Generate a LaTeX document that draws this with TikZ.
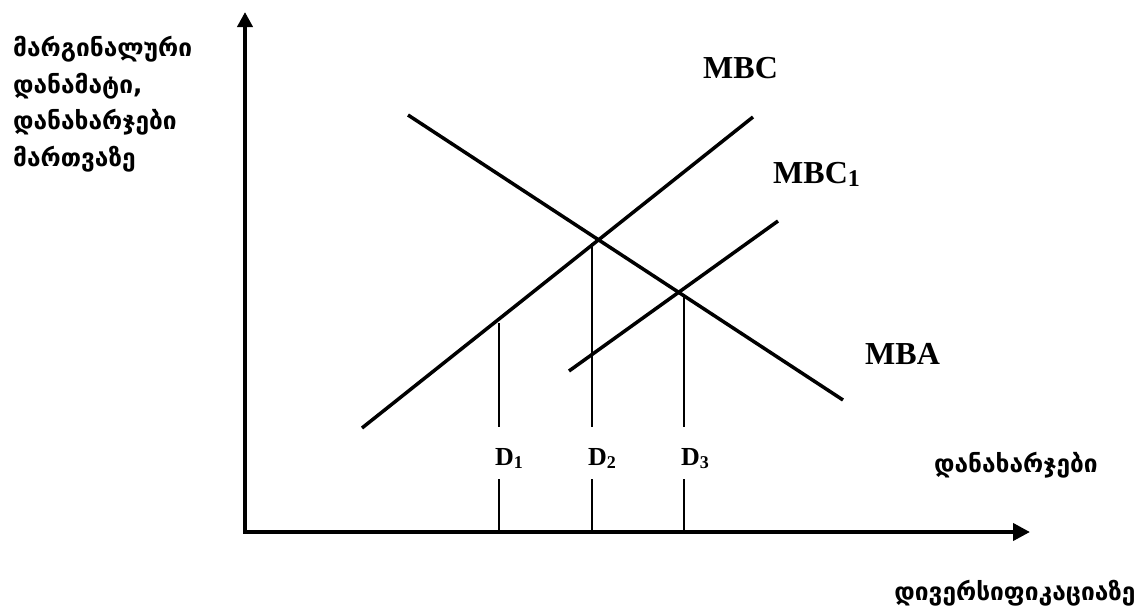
\documentclass[tikz,border=0pt]{standalone}
\usepackage{fontspec}
\setmainfont{Liberation Serif}
\newfontfamily\geo{DejaVu Sans}
\usetikzlibrary{arrows.meta}
\newcommand\mysub[2]{\raisebox{-3pt}{\fontsize{#1}{#1}\selectfont #2}}
\begin{document}
\begin{tikzpicture}[x=1pt,y=-1pt,
  axisline/.style={line width=4pt, line join=miter},
  curve/.style={line width=3.5pt},
  dline/.style={line width=2pt},
  lbl/.style={inner sep=0pt, font=\bfseries\fontsize{32}{32}\selectfont, anchor=base west},
  dlbl/.style={inner sep=0pt, font=\bfseries\fontsize{26}{26}\selectfont, anchor=base west},
  geotext/.style={inner sep=0pt, font=\geo\bfseries\fontsize{24.5}{36.5}\selectfont, align=left}
]
\useasboundingbox (0,0) rectangle (1137,608);
% axes
\coordinate (O) at (245,532);
\coordinate (Ytip) at (245,12);
\coordinate (Xtip) at (1030,532);
\draw[axisline, {Triangle[length=15pt,width=15pt]}-{Triangle[length=17pt,width=17pt]}] (Ytip) -- (O) -- (Xtip);
% curves
\coordinate (mbaA) at (408,115);
\coordinate (mbaB) at (843,400);
\coordinate (mbcA) at (362,428);
\coordinate (mbcB) at (753,117);
\coordinate (mbcoA) at (569,371);
\coordinate (mbcoB) at (778,221);
\draw[curve] (mbaA) -- (mbaB);
\draw[curve] (mbcA) -- (mbcB);
\draw[curve] (mbcoA) -- (mbcoB);
% labels
\node[lbl] (MBC) at (703,78) {MBC};
\node[lbl] (MBC1) at (773,183) {MBC\mysub{24}{1}};
\node[lbl] (MBA) at (865,364) {MBA};
\node[dlbl] (D1) at (495,465) {D\mysub{18}{1}};
\node[dlbl] (D2) at (588,465) {D\mysub{18}{2}};
\node[dlbl] (D3) at (681,465) {D\mysub{18}{3}};
% D lines
\coordinate (d1t) at (499,323);
\coordinate (d1m) at (499,427);
\coordinate (d1b) at (499,479);
\coordinate (d2t) at (592,243);
\coordinate (d2m) at (592,427);
\coordinate (d2b) at (592,479);
\coordinate (d3t) at (684,295);
\coordinate (d3m) at (684,427);
\coordinate (d3b) at (684,479);
\draw[dline] (d1t) -- (d1m) (d1b) -- (d1b |- O);
\draw[dline] (d2t) -- (d2m) (d2b) -- (d2b |- O);
\draw[dline] (d3t) -- (d3m) (d3b) -- (d3b |- O);
% Georgian texts
\node[geotext, anchor=north west] (ylab) at (13,36) {მარგინალური\\დანამატი,\\დანახარჯები\\მართვაზე};
\node[geotext] (xlab1) at (1016,465) {დანახარჯები};
\node[geotext] (xlab2) at (1015,593) {დივერსიფიკაციაზე};
\end{tikzpicture}
\end{document}
